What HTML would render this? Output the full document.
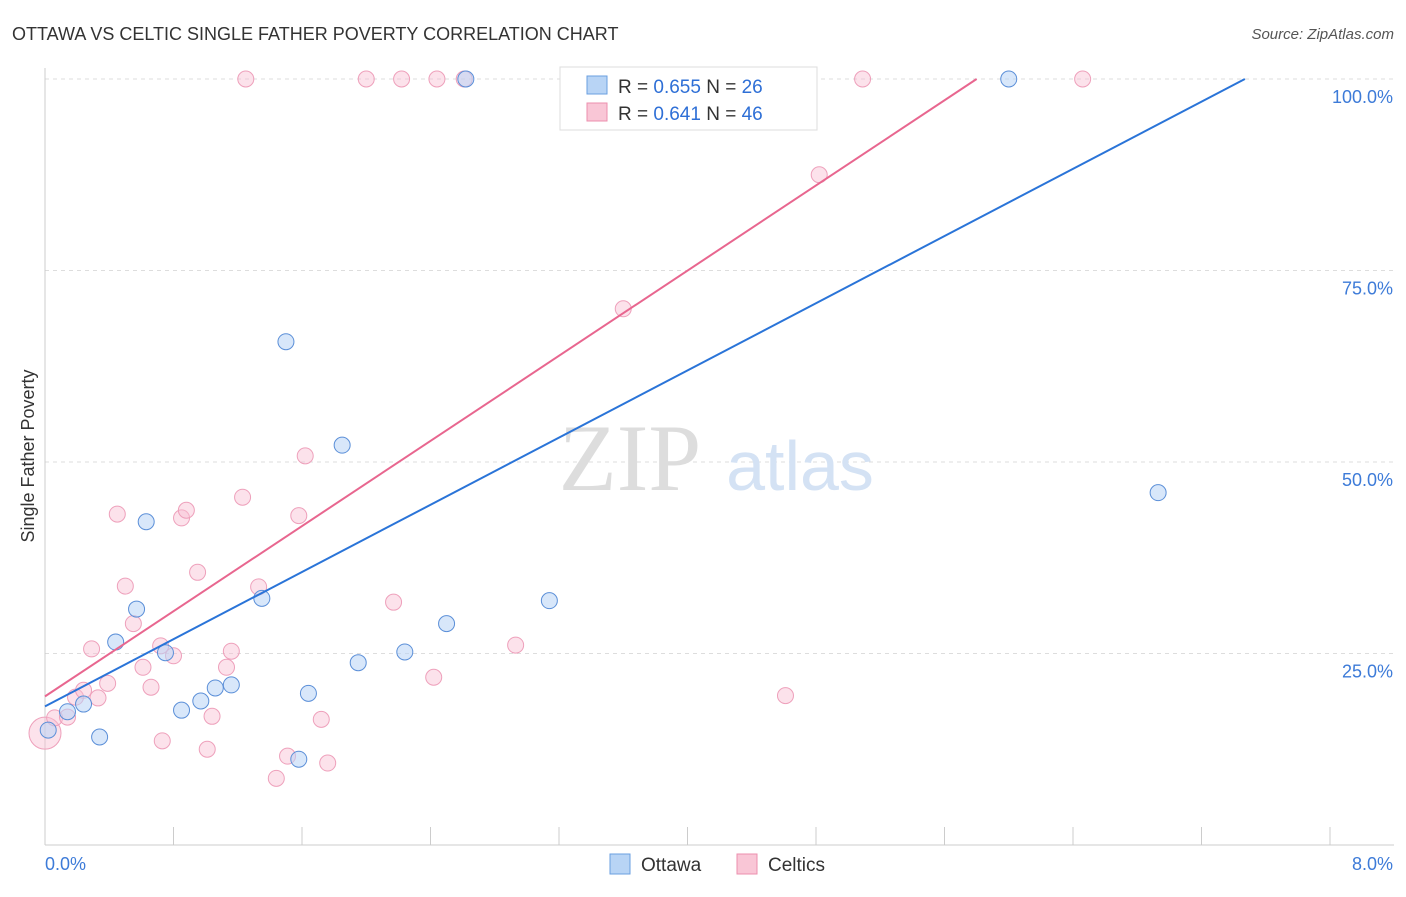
<!DOCTYPE html>
<html><head><meta charset="utf-8"><style>
body{margin:0;background:#fff;font-family:"Liberation Sans",sans-serif;}
</style></head><body>
<svg width="1406" height="892" xmlns="http://www.w3.org/2000/svg">
<text x="12" y="40" font-size="18" fill="#333">OTTAWA VS CELTIC SINGLE FATHER POVERTY CORRELATION CHART</text>
<text x="1394" y="39" font-size="15" fill="#555" font-style="italic" text-anchor="end">Source: ZipAtlas.com</text>
<g id="grid"></g>
<text x="630" y="490" font-size="95" fill="#ddd" font-family="Liberation Serif" text-anchor="middle">ZIP</text>
<text x="800" y="490" font-size="70" fill="#d4e2f4" text-anchor="middle">atlas</text>
<text transform="translate(34,456) rotate(-90)" font-size="18" fill="#333" text-anchor="middle">Single Father Poverty</text>
<g id="pts"></g>
<g id="lines"></g>
<g>
<rect x="560" y="67" width="257" height="63" fill="#fff" stroke="#ddd"/>
<rect x="587" y="76" width="20" height="18" fill="#b8d4f5" stroke="#6a9fe0"/>
<text x="618" y="93" font-size="19" fill="#333">R = <tspan fill="#2e6fd6">0.655</tspan>   N = <tspan fill="#2e6fd6">26</tspan></text>
<rect x="587" y="103" width="20" height="18" fill="#f9c6d6" stroke="#ec8fae"/>
<text x="618" y="120" font-size="19" fill="#333">R =  <tspan fill="#2e6fd6">0.641</tspan>   N = <tspan fill="#2e6fd6">46</tspan></text>
</g>
<g>
<rect x="610" y="854" width="20" height="20" fill="#b8d4f5" stroke="#6a9fe0"/>
<text x="641" y="871" font-size="19" fill="#333">Ottawa</text>
<rect x="737" y="854" width="20" height="20" fill="#f9c6d6" stroke="#ec8fae"/>
<text x="768" y="871" font-size="19" fill="#333">Celtics</text>
</g>
</svg>
<script>
const blueX=[0.02,0.14,0.24,0.34,0.44,0.57,0.63,0.75,0.85,0.97,1.06,1.16,1.35,1.50,1.58,1.64,1.85,1.95,2.24,2.50,2.62,3.14,3.56,4.57,6.00,6.93];
const blueY=[15.0,17.4,18.4,14.1,26.5,30.8,42.2,25.1,17.6,18.8,20.5,20.9,32.2,65.7,11.2,19.8,52.2,23.8,25.2,28.9,100,31.9,100,100,100,46.0];
const pinkX=[0.0,0.06,0.14,0.19,0.24,0.29,0.33,0.39,0.45,0.50,0.55,0.61,0.66,0.72,0.73,0.80,0.85,0.88,0.95,1.01,1.04,1.13,1.16,1.23,1.25,1.33,1.44,1.51,1.58,1.62,1.72,1.76,2.00,2.17,2.22,2.42,2.44,2.61,2.93,3.29,3.60,4.17,4.61,4.82,5.09,6.46];
const pinkY=[14.6,16.6,16.7,19.3,20.2,25.6,19.2,21.1,43.2,33.8,28.9,23.2,20.6,26.0,13.6,24.7,42.7,43.7,35.6,12.5,16.8,23.2,25.3,45.4,100,33.7,8.7,11.6,43.0,50.8,16.4,10.7,100,31.7,100,21.9,100,100,26.1,100,70.0,100,19.5,87.5,100,100];
const blueTrend=[[0,18.1],[7.47,100]];
const pinkTrend=[[0,19.4],[5.80,100]];
const yTicks=[25,50,75,100];
const yTickLabels=["25.0%","50.0%","75.0%","100.0%"];
const xTicks=[0,0.8,1.6,2.4,3.2,4.0,4.8,5.6,6.4,7.2,8.0];
const NS="http://www.w3.org/2000/svg";
const sx=v=>45+v/8*1285, sy=v=>845-v/100*766;
function mk(t,a,p){const e=document.createElementNS(NS,t);for(const k in a)e.setAttribute(k,a[k]);p.appendChild(e);return e;}
const grid=document.getElementById('grid');
yTicks.forEach((v,i)=>{
 const l=mk('line',{x1:45,x2:1394,y1:sy(v),y2:sy(v),stroke:'#ddd','stroke-dasharray':'4,4'},grid);
 
 
 const t=mk('text',{x:1393,y:sy(v)+24,'font-size':18,fill:'#3d7bd8','text-anchor':'end'},grid);t.textContent=yTickLabels[i];
 
 
});
const ax=mk('line',{x1:45,x2:1394,y1:845,y2:845,stroke:'#ccc'},grid);


const ay=mk('line',{x1:45,x2:45,y1:68,y2:845,stroke:'#ccc'},grid);


xTicks.forEach(v=>{const l=mk('line',{x1:sx(v),x2:sx(v),y1:827,y2:845,stroke:'#ccc'},grid);
 
 });
const t0=mk('text',{x:45,y:870,'font-size':18,fill:'#3d7bd8'},grid);t0.textContent="0.0%";


const t1=mk('text',{x:1393,y:870,'font-size':18,fill:'#3d7bd8','text-anchor':'end'},grid);t1.textContent="8.0%";


const pts=document.getElementById('pts');
pinkX.forEach((x,i)=>{const c=mk('circle',{cx:sx(x),cy:sy(pinkY[i]),r:i===0?16:8,fill:'rgba(249,190,210,0.45)',stroke:'#eea0bb','stroke-width':1},pts);
 
 });
blueX.forEach((x,i)=>{const c=mk('circle',{cx:sx(x),cy:sy(blueY[i]),r:8,fill:'rgba(184,212,245,0.55)',stroke:'#5b8fd8','stroke-width':1},pts);
 
 });
const lines=document.getElementById('lines');
const lb=mk('line',{x1:sx(blueTrend[0][0]),y1:sy(blueTrend[0][1]),x2:sx(blueTrend[1][0]),y2:sy(blueTrend[1][1]),stroke:'#2a74d8','stroke-width':2},lines);


const lp=mk('line',{x1:sx(pinkTrend[0][0]),y1:sy(pinkTrend[0][1]),x2:sx(pinkTrend[1][0]),y2:sy(pinkTrend[1][1]),stroke:'#e8668f','stroke-width':2},lines);


</script>
</body></html>
